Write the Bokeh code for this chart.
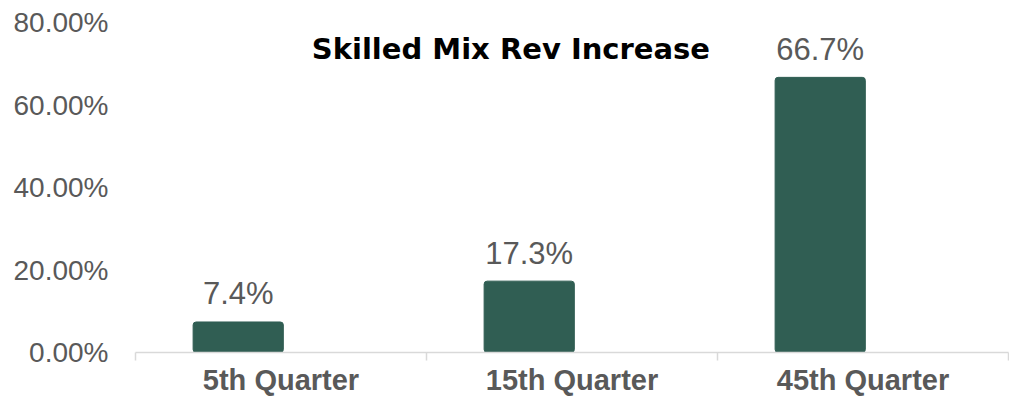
from bokeh.plotting import figure
from bokeh.models import (ColumnDataSource, Range1d, PrintfTickFormatter, FixedTicker,
                          LinearAxis)
from bokeh.transform import dodge
from bokeh.core.properties import value
from bokeh.embed import file_html
from bokeh.resources import INLINE

categories = ["5th Quarter", "15th Quarter", "45th Quarter"]
values = [7.4, 17.3, 66.7]
labels = ["7.4%", "17.3%", "66.7%"]
y_ticks = [0, 20, 40, 60, 80]
title_text = "Skilled Mix Rev Increase"

FONT = "Liberation Sans"
GRAY = "#595959"
LINE = "#d9d9d9"
BAR = "#305E53"

n = len(categories)
centers = [i + 0.5 for i in range(n)]          # category slot centres
src = ColumnDataSource(dict(pos=centers, cat=categories, val=values, lab=labels))

p = figure(x_range=Range1d(0, n), y_range=Range1d(0, 80), width=1009, height=400,
           output_backend="svg", toolbar_location=None, x_axis_location=None,
           min_border_left=135, min_border_right=1, min_border_top=22, min_border_bottom=48)
p.outline_line_color = None
p.xgrid.grid_line_color = None
p.ygrid.grid_line_color = None
p.background_fill_color = "white"
p.border_fill_color = "white"

# axis line with tick marks at the category boundaries
tick_axis = LinearAxis(ticker=FixedTicker(ticks=list(range(n + 1))),
                       axis_line_color=LINE, axis_line_width=1.5,
                       major_tick_line_color=LINE, major_tick_line_width=1.5,
                       major_tick_in=0, major_tick_out=8,
                       minor_tick_line_color=None,
                       major_label_text_font_size="1px", major_label_text_color=None,
                       major_label_standoff=0)
p.add_layout(tick_axis, "below")

# category labels at slot centres
cat_axis = LinearAxis(ticker=FixedTicker(ticks=centers),
                      major_label_overrides={c: name for c, name in zip(centers, categories)},
                      axis_line_color=None, major_tick_line_color=None,
                      minor_tick_line_color=None, major_tick_out=0, major_tick_in=0,
                      major_label_standoff=3,
                      major_label_text_font=FONT, major_label_text_font_style="bold",
                      major_label_text_font_size="29px", major_label_text_color=GRAY)
p.add_layout(cat_axis, "below")

p.vbar(x=dodge("pos", -0.147), top="val", bottom=0, width=0.31,
       source=src, fill_color=BAR, line_color=BAR, border_radius=3)

p.text(x=dodge("pos", -0.147), y="val", text="lab", source=src,
       text_align="center", text_baseline="alphabetic", y_offset=-28,
       text_font=value(FONT), text_font_size="31px", text_color=GRAY)

# title inside the plot
p.text(x=dodge("pos", -0.21), y=73.6, text="t",
       source=ColumnDataSource(dict(pos=[centers[1]], t=[title_text])),
       text_align="center", text_baseline="middle",
       text_font=value("DejaVu Sans"), text_font_style="bold", text_font_size="29px",
       text_color="black")

ya = p.yaxis[0]
ya.ticker = FixedTicker(ticks=y_ticks)
ya.formatter = PrintfTickFormatter(format="%.2f%%")
ya.axis_line_color = None
ya.major_tick_line_color = None
ya.minor_tick_line_color = None
ya.major_tick_out = 0
ya.major_label_standoff = 27
ya.major_label_text_font = FONT
ya.major_label_text_font_size = "28px"
ya.major_label_text_color = GRAY

open("out.html", "w").write(file_html(p, INLINE))
